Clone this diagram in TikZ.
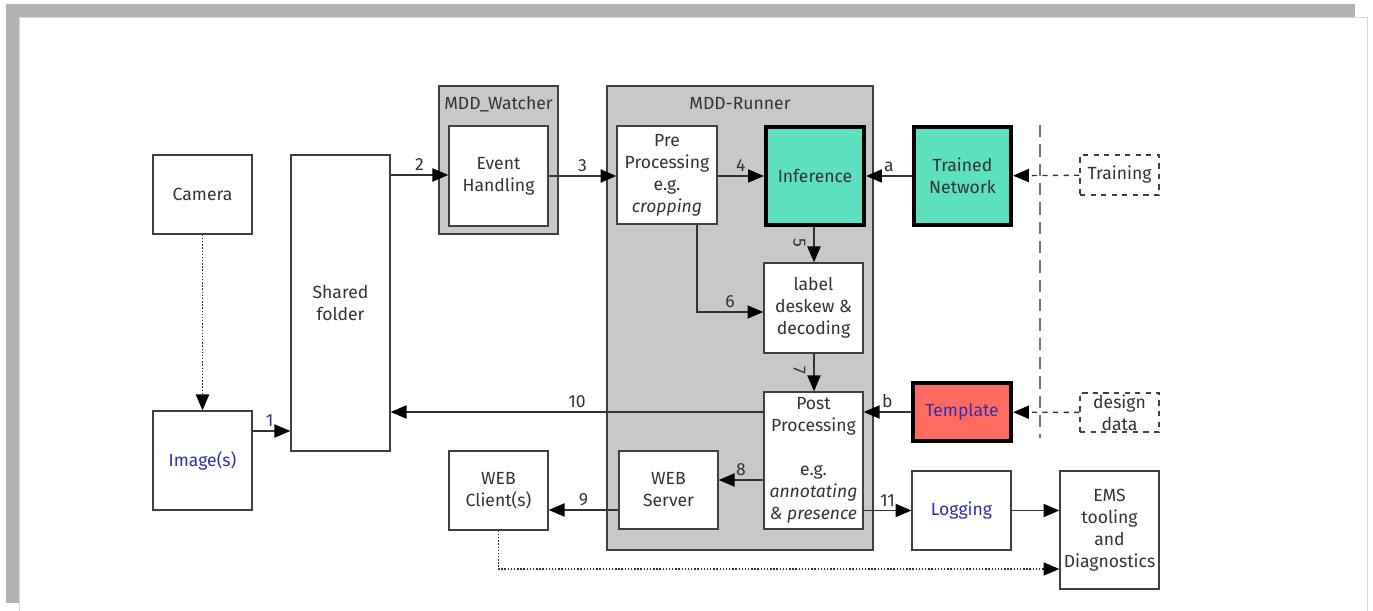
\documentclass[tikz,border=0pt]{standalone}
\usepackage{fontspec}
\setmainfont{Fira Sans}
\usetikzlibrary{arrows.meta}
\definecolor{linecol}{HTML}{404040}
\definecolor{textcol}{HTML}{333333}
\definecolor{boxgray}{HTML}{C8C8C8}
\definecolor{teal}{HTML}{5CE0BE}
\definecolor{salmon}{HTML}{FF6B61}
\definecolor{txtblue}{HTML}{3030A8}
\tikzset{
    blk/.style={draw=linecol,line width=0.8pt,fill=white,text=textcol,align=center,
        inner sep=1pt,font=\fontsize{10}{12.5}\selectfont},
    heavyblk/.style={blk,draw=black,line width=2.4pt},
    dashblk/.style={blk,dashed,draw=linecol},
    frame/.style={draw=linecol,line width=0.8pt,fill=boxgray},
    lbl/.style={text=textcol,font=\fontsize{10}{12}\selectfont,inner sep=2pt},
    vlbl/.style={lbl,anchor=north,rotate=-90,inner sep=4.5pt},
    arr/.style={draw=black!80,line width=0.8pt,-{Triangle[length=9pt,width=7.5pt,fill=black,color=black]}},
}
\begin{document}
\begin{tikzpicture}[x=0.02cm,y=-0.02cm]
\useasboundingbox (0,0) rectangle (1373,611);
% page
\fill[fill=white] (0,0) rectangle (1373,611);
\fill[fill=black!30] (6,4) rectangle (1355,603);
\draw[fill=white,draw=black!15] (19,17) rectangle (1367,615);
% containers
\draw[frame] (439,86) rectangle (558,234);
\node[lbl] (wtitle) at (498.5,104) {MDD\_Watcher};
\draw[frame] (607,86) rectangle (873,550);
\node[lbl] (rtitle) at (740,104) {MDD-Runner};
% boxes
\node[blk,minimum width=1.98cm,minimum height=1.58cm] (camera) at (202.5,194.5) {Camera};
\node[blk,minimum width=1.98cm,minimum height=1.98cm,text=txtblue] (images) at (202.5,460.5) {Image(s)};
\node[blk,minimum width=1.98cm,minimum height=5.92cm] (shared) at (340.5,303) {Shared\\folder};
\node[blk,minimum width=1.98cm,minimum height=2.0cm] (event) at (498.5,176) {Event\\Handling};
\node[blk,minimum width=2.0cm,minimum height=1.96cm] (pre) at (667,175) {Pre\\Processing\\e.g.\\\textit{cropping}};
\node[heavyblk,fill=teal,minimum width=1.96cm,minimum height=1.96cm] (infer) at (815,176) {Inference};
\node[blk,minimum width=1.98cm,minimum height=1.8cm] (deskew) at (813.5,308) {label\\deskew \&\\decoding};
\node[blk,minimum width=1.98cm,minimum height=2.74cm] (post) at (813.5,460.5) {Post\\Processing\\~\\e.g.\\\textit{annotating}\\\textit{\& presence}};
\node[blk,minimum width=1.98cm,minimum height=1.56cm] (server) at (668.5,490) {WEB\\Server};
\node[blk,minimum width=1.98cm,minimum height=1.58cm] (client) at (498.5,490.5) {WEB\\Client(s)};
\node[blk,minimum width=1.98cm,minimum height=1.58cm,text=txtblue] (logging) at (961.5,510.5) {Logging};
\node[blk,minimum width=1.98cm,minimum height=2.36cm] (ems) at (1109.5,530) {EMS\\tooling\\and\\Diagnostics};
\node[heavyblk,fill=teal,minimum width=1.94cm,minimum height=1.96cm] (trained) at (962.5,176) {Trained\\Network};
\node[heavyblk,fill=salmon,text=txtblue,minimum width=1.96cm,minimum height=1.16cm] (template) at (962,412) {Template};
\node[dashblk,minimum width=1.58cm,minimum height=0.8cm] (training) at (1119.5,175) {Training};
\node[dashblk,minimum width=1.58cm,minimum height=0.78cm] (design) at (1119.5,412.5) {design\\data};
% separator
\coordinate (septop) at (1040,125);
\coordinate (sepbot) at (1040,438);
\draw[draw=black!55,line width=0.9pt,dash pattern=on 7pt off 4pt] (septop) -- (sepbot);
% connectors
\draw[arr,densely dotted] (camera) -- (images);
\draw[arr] (images.east |- 0,431) -- (shared.west |- 0,431) node[lbl,pos=0.45,above,text=txtblue]{1};
\draw[arr] (shared.east |- 0,175) -- (event.west |- 0,175) node[lbl,midway,above]{2};
\draw[arr] (event) -- (pre.west |- event) node[lbl,midway,above]{3};
\draw[arr] (pre.east |- infer) -- (infer) node[lbl,midway,above]{4};
\draw[arr] (trained) -- (infer.east |- trained) node[lbl,midway,above]{a};
\draw[arr] (infer.south -| 814,0) -- (deskew.north -| 814,0) node[vlbl,pos=0.45]{5};
\draw[arr] (pre.south -| 697,0) |- (deskew.west |- 0,312) node[lbl,pos=0.75,above]{6};
\draw[arr] (deskew.south -| 814,0) -- (post.north -| 814,0) node[vlbl,pos=0.45]{7};
\draw[arr] (post.west |- 0,412) -- (shared.east |- 0,412) node[lbl,midway,above]{10};
\draw[arr] (post.west |- 0,480) -- (server.east |- 0,480) node[lbl,midway,above]{8};
\draw[arr] (server.west |- 0,510) -- (client.east |- 0,510) node[lbl,midway,above]{9};
\draw[arr] (template) -- (post.east |- template) node[lbl,midway,above]{b};
\draw[arr] (post.east |- logging) -- (logging) node[lbl,midway,above]{11};
\draw[arr] (logging) -- (ems.west |- logging);
\draw[arr,densely dotted] (client.south) |- (ems.west |- 0,569);
\draw[arr,dashed] (training) -- (trained);
\draw[arr,dashed] (design) -- (template);
\end{tikzpicture}
\end{document}
